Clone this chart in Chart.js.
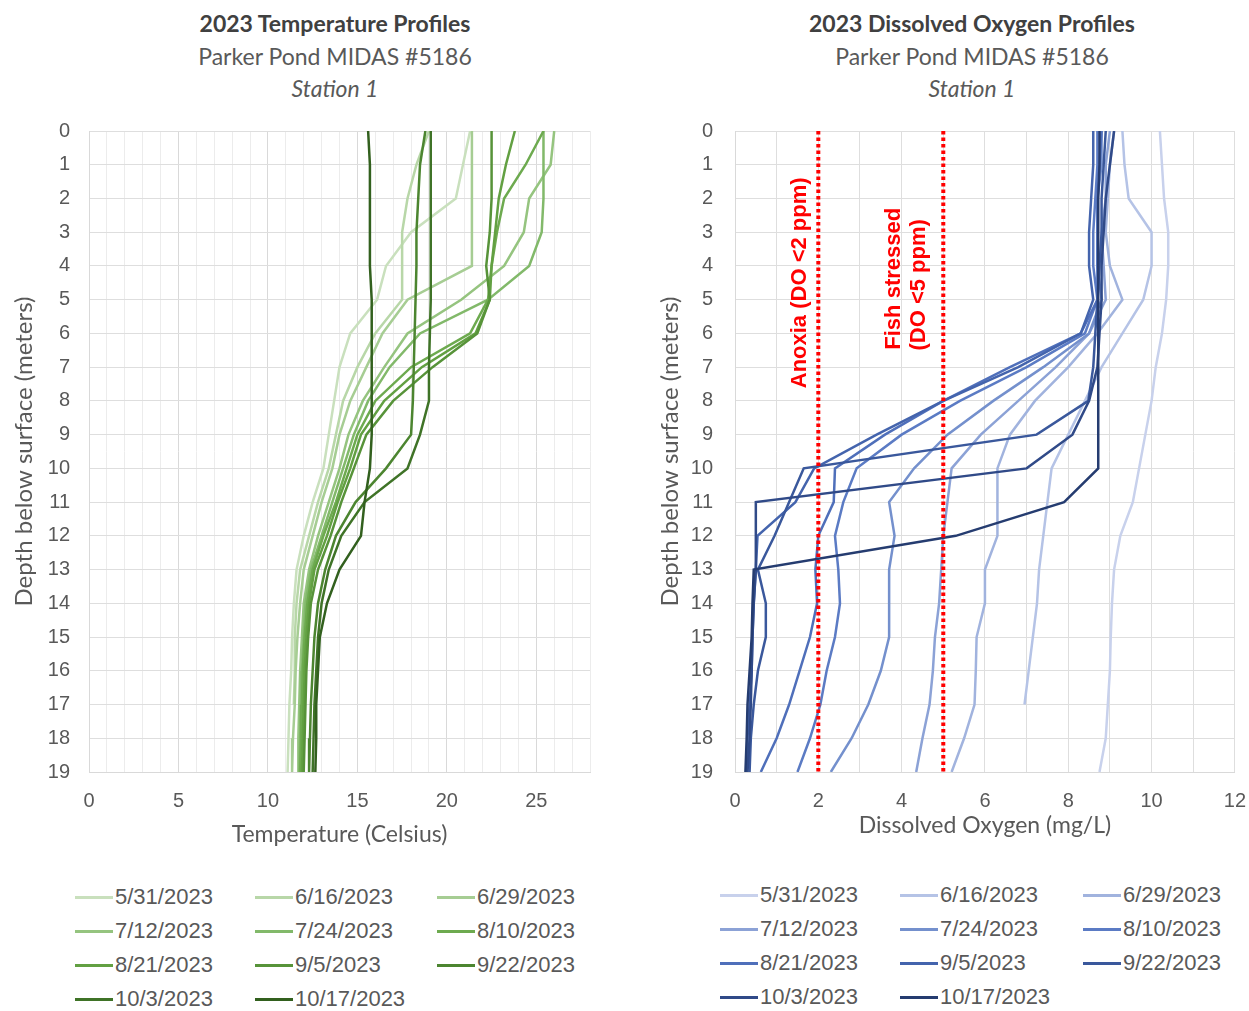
<!DOCTYPE html>
<html>
<head>
<meta charset="utf-8">
<script src="https://cdn.jsdelivr.net/npm/chart.js@4.4.1/dist/chart.umd.min.js"></script>
<style>
  html, body { margin: 0; padding: 0; background: #fff; }
  body { width: 1249px; height: 1011px; position: relative; overflow: hidden; }
  .ttl { position: absolute; top: 7px; width: 500px; text-align: center;
         font-family: Lato, "Open Sans", sans-serif; font-size: 23px; line-height: 32.5px; color: #595959; }
  .ttl .main { font-weight: bold; font-size: 23px; color: #404040; }
  .ttl .st { font-style: italic; }
  canvas { position: absolute; }
  .lg { position: absolute; height: 26px; line-height: 26px; white-space: nowrap;
        font-family: "Liberation Sans", Arial, sans-serif; font-size: 22px; color: #595959; }
  .lg .sw { display: inline-block; width: 38px; height: 3px; vertical-align: middle; margin-right: 2px; position: relative; top: -1px; }
</style>
</head>
<body>
<div class="ttl" style="left:85px"><div class="main">2023 Temperature Profiles</div><div>Parker Pond MIDAS #5186</div><div class="st">Station 1</div></div>
<div class="ttl" style="left:722px"><div class="main">2023 Dissolved Oxygen Profiles</div><div>Parker Pond MIDAS #5186</div><div class="st">Station 1</div></div>
<canvas id="tempChart" width="620" height="748" style="left:0;top:100px;width:620px;height:748px"></canvas>
<canvas id="doChart" width="617" height="742" style="left:646px;top:97px;width:617px;height:742px"></canvas>
<div id="tempLegend"></div>
<div id="doLegend"></div>
<script>
// Perfis de temperatura e OD (Parker Pond, estação 1).
var DEPTHS = [0, 1, 2, 3, 4, 5, 6, 7, 8, 9, 10, 11, 12, 13, 14, 15, 16, 17, 18, 19];
var SAMPLE_DATES = ["5/31/2023", "6/16/2023", "6/29/2023", "7/12/2023", "7/24/2023", "8/10/2023",
                    "8/21/2023", "9/5/2023", "9/22/2023", "10/3/2023", "10/17/2023"];

// temperatura (Celsius) por metro de profundidade
var TEMP_0531 = [21.3, 20.9, 20.5, 18.0, 16.6, 16.1, 14.6, 14.0, 13.7, 13.4, 13.1, 12.5, 12.0, 11.6, 11.45, 11.35, 11.3, 11.2, 11.15, 11.1];
var TEMP_0616 = [19.0, 18.3, 17.8, 17.5, 17.5, 17.5, 16.0, 15.0, 14.2, 13.8, 13.4, 12.8, 12.3, 11.8, 11.6, 11.5, 11.5, 11.45];
var TEMP_0629 = [21.4, 21.4, 21.4, 21.4, 21.4, 17.8, 16.4, 15.5, 14.6, 14.0, 13.6, 13.0, 12.5, 12.0, 11.8, 11.65, 11.55, 11.5, 11.4, 11.35];
var TEMP_0712 = [26.0, 25.8, 24.6, 24.3, 23.2, 20.8, 17.8, 16.5, 15.3, 14.5, 14.0, 13.4, 12.8, 12.3, 12.0, 11.9, 11.8, 11.75, 11.7, 11.7];
var TEMP_0724 = [25.4, 25.4, 25.4, 25.3, 24.6, 22.3, 18.5, 16.8, 15.6, 14.8, 14.2, 13.6, 13.0, 12.4, 12.1, 12.0, 11.9, 11.85, 11.8, 11.75];
var TEMP_0810 = [25.4, 24.4, 23.2, 22.8, 22.5, 22.3, 21.3, 18.0, 16.0, 15.0, 14.4, 13.8, 13.1, 12.5, 12.2, 12.05, 11.95, 11.9, 11.85, 11.8];
var TEMP_0821 = [23.8, 23.3, 22.9, 22.7, 22.5, 22.4, 21.6, 18.6, 16.5, 15.2, 14.6, 13.9, 13.3, 12.6, 12.3, 12.15, 12.05, 12.0, 11.95, 11.9];
var TEMP_0905 = [22.5, 22.5, 22.5, 22.4, 22.2, 22.4, 21.7, 19.2, 17.0, 15.5, 14.8, 14.1, 13.5, 12.8, 12.4, 12.25, 12.15, 12.1, 12.05, 12.0];
var TEMP_0922 = [18.8, 18.5, 18.4, 18.3, 18.3, 18.25, 18.2, 18.15, 18.1, 18.0, 16.6, 14.9, 13.8, 13.2, 12.8, 12.6, 12.5, 12.4, 12.35, 12.3];
var TEMP_1003 = [19.1, 19.1, 19.1, 19.1, 19.1, 19.1, 19.05, 19.0, 19.0, 18.5, 17.8, 15.4, 14.1, 13.4, 13.0, 12.8, 12.7, 12.6, 12.55, 12.5];
var TEMP_1017 = [15.6, 15.7, 15.7, 15.7, 15.7, 15.8, 15.8, 15.8, 15.8, 15.8, 15.7, 15.4, 15.2, 14.0, 13.3, 12.9, 12.8, 12.7, 12.7, 12.65];

// oxigênio dissolvido (mg/L) por metro de profundidade
var DO_0531 = [10.2, 10.25, 10.3, 10.4, 10.4, 10.35, 10.25, 10.1, 10.0, 9.85, 9.7, 9.55, 9.25, 9.1, 9.05, 9.02, 9.0, 8.95, 8.9, 8.75];
var DO_0616 = [9.3, 9.35, 9.45, 10.0, 10.0, 9.8, 9.3, 8.8, 8.4, 8.0, 7.6, 7.5, 7.4, 7.3, 7.25, 7.15, 7.05, 6.95];
var DO_0629 = [9.1, 9.0, 8.95, 8.9, 9.0, 9.3, 8.7, 8.0, 7.2, 6.6, 6.3, 6.3, 6.3, 6.0, 6.0, 5.8, 5.78, 5.75, 5.5, 5.2];
var DO_0712 = [9.0, 8.9, 8.9, 8.8, 8.85, 8.9, 8.5, 7.7, 6.8, 5.9, 5.2, 5.1, 5.0, 4.95, 4.9, 4.8, 4.75, 4.67, 4.5, 4.35];
var DO_0724 = [8.8, 8.8, 8.7, 8.7, 8.7, 8.8, 8.5, 7.4, 6.2, 5.1, 4.3, 3.7, 3.83, 3.7, 3.7, 3.7, 3.5, 3.2, 2.8, 2.3];
var DO_0810 = [8.7, 8.7, 8.65, 8.6, 8.6, 8.7, 8.4, 7.0, 5.4, 4.0, 2.92, 2.6, 2.4, 2.48, 2.52, 2.4, 2.2, 2.05, 1.8, 1.5];
var DO_0821 = [8.8, 8.75, 8.7, 8.7, 8.7, 8.7, 8.3, 6.6, 5.0, 3.6, 2.4, 2.37, 2.0, 1.93, 1.97, 1.8, 1.55, 1.3, 1.0, 0.62];
var DO_0905 = [8.6, 8.6, 8.55, 8.5, 8.5, 8.6, 8.3, 6.8, 5.0, 3.4, 1.9, 1.45, 0.54, 0.5, 0.45, 0.42, 0.4, 0.35, 0.3, 0.28];
var DO_0922 = [8.9, 8.85, 8.8, 8.8, 8.75, 8.7, 8.65, 8.6, 8.48, 7.24, 1.65, 1.3, 0.95, 0.55, 0.74, 0.74, 0.55, 0.45, 0.38, 0.35];
var DO_1003 = [9.1, 9.0, 8.9, 8.85, 8.8, 8.8, 8.75, 8.7, 8.5, 8.1, 7.0, 0.5, 0.5, 0.5, 0.45, 0.42, 0.4, 0.38, 0.35, 0.3];
var DO_1017 = [8.75, 8.75, 8.72, 8.72, 8.72, 8.72, 8.72, 8.72, 8.72, 8.72, 8.72, 7.9, 5.3, 0.45, 0.42, 0.4, 0.35, 0.3, 0.28, 0.25];

var TEMP_SERIES = [TEMP_0531, TEMP_0616, TEMP_0629, TEMP_0712, TEMP_0724, TEMP_0810,
                   TEMP_0821, TEMP_0905, TEMP_0922, TEMP_1003, TEMP_1017];
var DO_SERIES = [DO_0531, DO_0616, DO_0629, DO_0712, DO_0724, DO_0810,
                 DO_0821, DO_0905, DO_0922, DO_1003, DO_1017];

var TEMP_TICK_LABELS = [0, 5, 10, 15, 20, 25];
var DO_TICK_LABELS = [0, 2, 4, 6, 8, 10, 12];
var DEPTH_TICK_LABELS = DEPTHS;

// limiares de OD (linhas vermelhas pontilhadas)
var DO_THRESHOLDS = [2, 5];
var DO_NOTES = ["Anoxia (DO <2 ppm)", "Fish stressed", "(DO <5 ppm)"];
var DO_NOTE_X = [1.55, 3.81, 4.42];
var DO_NOTE_Y = [4.5, 4.38, 4.56];

var GREENS = ["#c9e0bd", "#b8d7a8", "#a6cd93", "#95c47f", "#82b96a", "#6daa4f",
              "#62a042", "#579339", "#4c8530", "#3f7327", "#32601e"];
var BLUES = ["#c8d1ec", "#b5c3e6", "#a1b3de", "#8ca2d6", "#7490cd", "#5b7bc4",
             "#4f6fba", "#4464ad", "#3a589c", "#304a88", "#253c70"];

var TICK_FONT = { family: '"Liberation Sans", Arial, sans-serif', size: 20 };
var XTITLE_FONT = { family: 'Lato, "Open Sans", sans-serif', size: 23 };
var YTITLE_FONT = { family: 'Lato, "Open Sans", sans-serif', size: 24 };
var INK = "#595959";

function profilePoints(values) {
  return values.map(function (v, i) { return { x: v, y: DEPTHS[i] }; });
}

function profileDatasets(series, colors) {
  return series.map(function (values, i) {
    return {
      label: SAMPLE_DATES[i],
      data: profilePoints(values),
      showLine: true,
      borderColor: colors[i],
      backgroundColor: colors[i],
      borderWidth: 2.5,
      pointRadius: 0,
      tension: 0,
      order: series.length - i,
    };
  });
}

// chartArea fica em: topo = padTop (>= metade do rótulo + padding do tick), direita = padRight
function makeProfileChart(canvas, opts) {
  return new Chart(canvas, {
    type: "scatter",
    data: { datasets: opts.datasets },
    plugins: opts.plugins || [],
    options: {
      responsive: false,
      animation: false,
      events: [],
      layout: { padding: { top: opts.padTop, right: opts.padRight, left: 0, bottom: 0 } },
      scales: {
        x: {
          type: "linear",
          min: 0,
          max: opts.xMax,
          afterFit: function (scale) { scale.height = opts.xAxisHeight; },
          border: { color: "#d9d9d9" },
          grid: { drawTicks: false, color: opts.xGridColor },
          ticks: {
            stepSize: 1,
            autoSkip: false,
            maxRotation: 0,
            padding: 17,
            color: INK,
            font: TICK_FONT,
            callback: function (v) { return opts.xLabels.indexOf(v) >= 0 ? String(v) : ""; },
          },
          title: { display: true, text: opts.xTitle, color: INK, font: XTITLE_FONT, padding: 0 },
        },
        y: {
          type: "linear",
          reverse: true,
          min: 0,
          max: 19,
          afterFit: function (scale) { scale.width = 89; },
          border: { color: "#d9d9d9" },
          grid: { drawTicks: false, color: "#dedede" },
          ticks: {
            stepSize: 1,
            autoSkip: false,
            padding: opts.yTickPad,
            color: INK,
            font: TICK_FONT,
            callback: function (v) { return DEPTH_TICK_LABELS.indexOf(v) >= 0 ? String(v) : ""; },
          },
          title: { display: true, text: "Depth below surface (meters)", color: INK, font: YTITLE_FONT,
                   padding: { top: 9.6, bottom: 0 } },
        },
      },
      plugins: { legend: { display: false }, tooltip: { enabled: false } },
    },
  });
}

// textos vermelhos girados ao lado das linhas de limiar
var doNotesPlugin = {
  id: "doNotes",
  afterDatasetsDraw: function (chart) {
    var ctx = chart.ctx, xs = chart.scales.x, ys = chart.scales.y;
    ctx.save();
    ctx.fillStyle = "#ff0000";
    ctx.font = 'bold 22px "Liberation Sans", Arial, sans-serif';
    ctx.textAlign = "center";
    ctx.textBaseline = "middle";
    DO_NOTES.forEach(function (txt, i) {
      ctx.save();
      ctx.translate(xs.getPixelForValue(DO_NOTE_X[i]), ys.getPixelForValue(DO_NOTE_Y[i]));
      ctx.rotate(-Math.PI / 2);
      ctx.fillText(txt, 0, 0);
      ctx.restore();
    });
    ctx.restore();
  },
};

function renderLegend(container, colors, colX, rowY) {
  SAMPLE_DATES.forEach(function (name, i) {
    var item = document.createElement("div");
    item.className = "lg";
    item.style.left = colX[i % 3] + "px";
    item.style.top = (rowY[Math.floor(i / 3)] - 13) + "px";
    var sw = document.createElement("span");
    sw.className = "sw";
    sw.style.background = colors[i];
    item.appendChild(sw);
    item.appendChild(document.createTextNode(name));
    container.appendChild(item);
  });
}

makeProfileChart(document.getElementById("tempChart"), {
  datasets: profileDatasets(TEMP_SERIES, GREENS),
  xMax: 28,
  xLabels: TEMP_TICK_LABELS,
  xTitle: "Temperature (Celsius)",
  xAxisHeight: 76,
  padTop: 31,
  padRight: 30,
  yTickPad: 19,
  xGridColor: function (c) { return c.tick && c.tick.value % 5 === 0 ? "#d9d9d9" : "#ececec"; },
});

var thresholdSets = DO_THRESHOLDS.map(function (v) {
  return {
    label: "DO " + v,
    data: [{ x: v, y: 0 }, { x: v, y: 19 }],
    showLine: true,
    borderColor: "#ff0000",
    borderWidth: 4,
    borderDash: [3.5, 3],
    pointRadius: 0,
    order: 0,
  };
});

makeProfileChart(document.getElementById("doChart"), {
  datasets: profileDatasets(DO_SERIES, BLUES).concat(thresholdSets),
  plugins: [doNotesPlugin],
  xMax: 12,
  xLabels: DO_TICK_LABELS,
  xTitle: "Dissolved Oxygen (mg/L)",
  xAxisHeight: 67,
  padTop: 34,
  padRight: 28,
  yTickPad: 22,
  xGridColor: "#dedede",
});

renderLegend(document.getElementById("tempLegend"), GREENS, [75, 255, 437], [897, 931, 965, 999]);
renderLegend(document.getElementById("doLegend"), BLUES, [720, 900, 1083], [895, 929, 963, 997]);
</script>
</body>
</html>
